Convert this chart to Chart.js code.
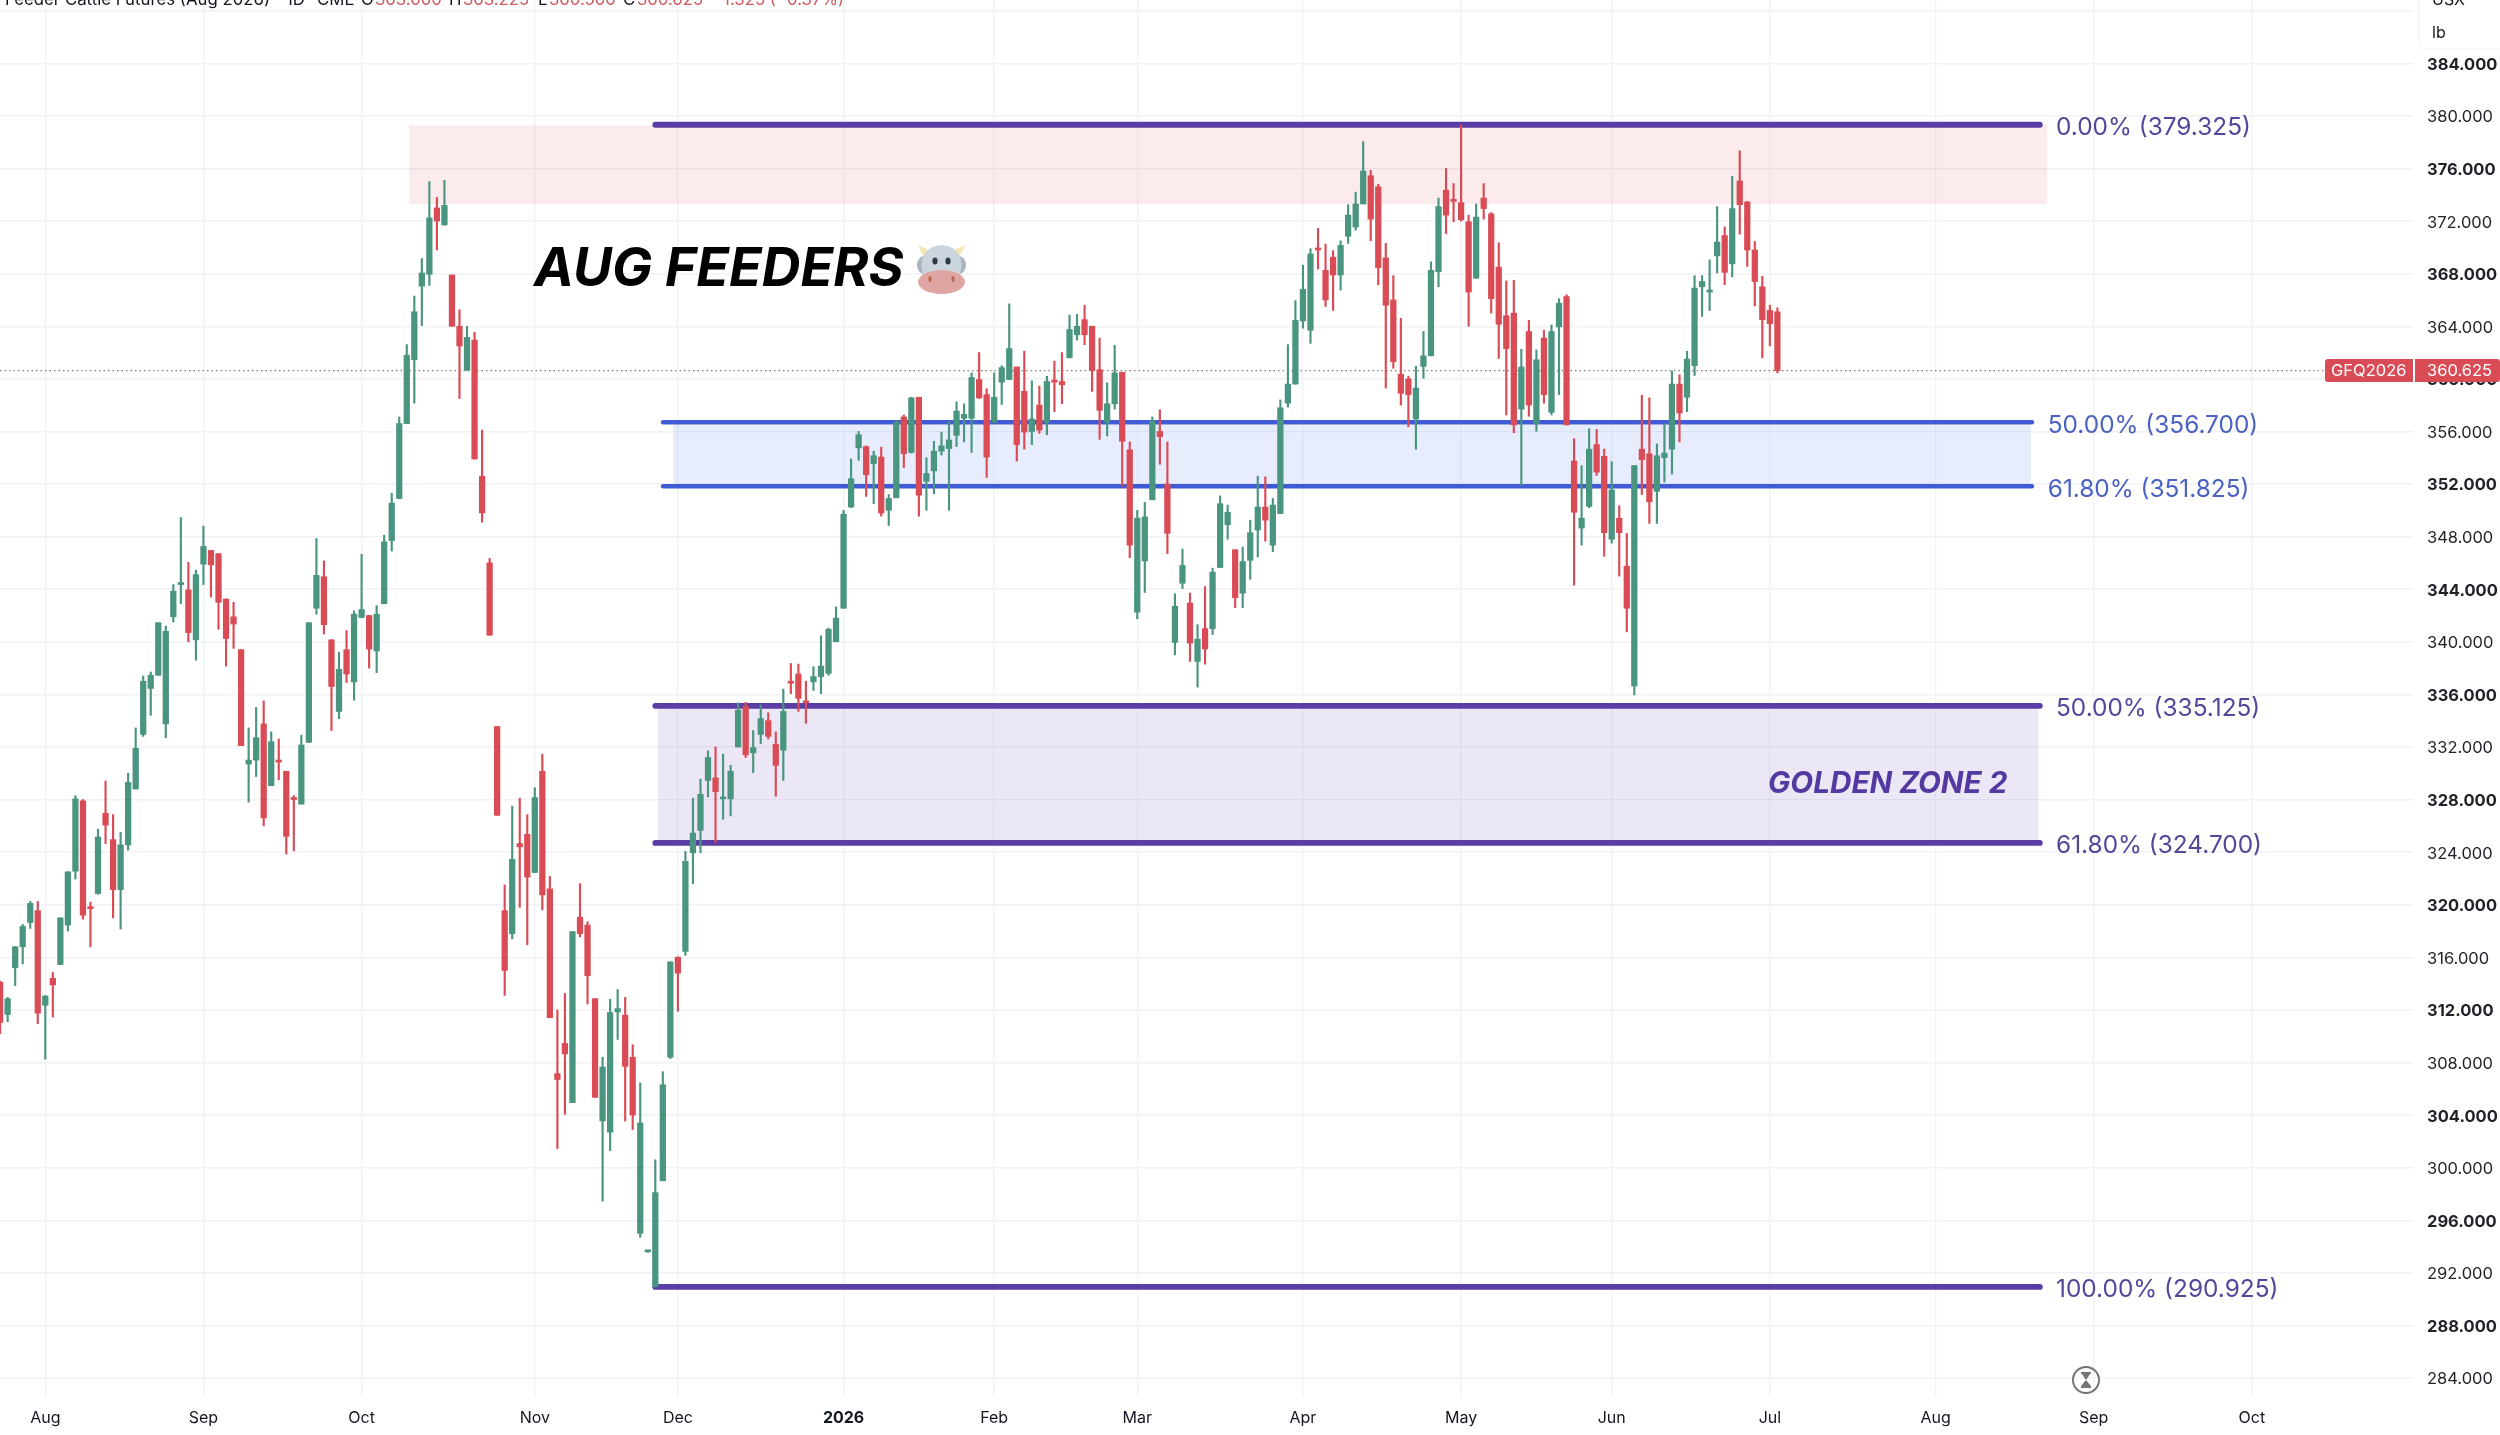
<!DOCTYPE html>
<html>
<head>
<meta charset="utf-8">
<title>AUG FEEDERS</title>
<script src="https://cdn.jsdelivr.net/npm/chart.js@4/dist/chart.umd.min.js"></script>
<style>
  html, body { margin: 0; padding: 0; background: #ffffff; }
  canvas { display: block; }
</style>
</head>
<body>
<canvas id="chart" width="2500" height="1435"></canvas>
<script>
// daily bars, trading day 0 is 1 Aug 2025, first bar on screen is day -6
var firstBar = -6;

var opens = [
  314.1,311.65,315.2,316.8,318.65,319.55,312.35,314.4,315.45,318.45,
  322.55,327.9,319.8,320.85,326.95,324.95,321.15,324.55,328.8,332.95,
  336.45,337.45,333.75,341.9,344.35,343.95,340.15,345.9,346.95,346.7,
  343.25,341.9,339.4,330.7,331,333.75,329.05,331,330.15,328.15,
  327.65,332.35,342.55,344.95,340.15,334.7,339.4,336.95,341.85,342,
  339.3,342.9,347.7,350.9,356.6,361.45,367.05,367.95,373,371.7,
  367.9,364,360.65,362.95,352.6,346,333.55,319.55,317.8,324.65,
  325.35,322.45,330.15,321.2,307.15,309.45,304.95,319.05,318.45,312.85,
  303.55,302.7,311.85,311.6,308.4,295,293.6,290.95,299,308.4,
  316,316.45,323.95,325.65,329.45,329.65,328.05,328.05,332,335.1,
  331.55,332.95,334,332.2,331.75,337,337.55,335.45,336.95,337.35,
  337.6,340,342.55,350.25,354.75,354.85,353.55,354.05,350,350.95,
  357.1,354.4,358.6,352.2,353,354.5,354.7,355.7,357,357,
  359.95,358.8,356.7,359.75,359.95,360.9,359.05,356,358,356.7,
  359.85,359.8,361.6,363.35,364.5,364,360.7,356.7,358.1,360.5,
  354.6,342.25,346.15,350.8,356,352,339.95,344.45,342.95,338.5,
  341,341,345.65,348.9,347,343.7,346.2,348.5,350.25,347.35,
  349.75,358.15,359.6,364.4,363.7,369.95,368.25,369.25,367.9,370.85,
  371.55,373.3,375.45,374.6,369.2,366,360.35,360,356.95,360.95,
  361.75,368.15,374.35,373.65,373.4,371.95,367.65,373.75,372.55,368.5,
  364.8,365,357.7,363.6,356.6,363.1,357.45,363.95,366.25,353.75,
  348.65,350.3,355,354.1,347.8,349.4,345.75,336.65,354.65,354.3,
  351.45,354,354.65,359.6,358.6,361,367,366.6,369.35,370.9,
  368.75,375.05,373.45,369.8,367,365.2,365.1
];
var highs = [
  314.2,312.95,316.8,318.5,320.25,320.25,313.1,314.85,319,322.5,
  328.3,328,320.2,325.75,329.4,326.85,325.5,330,333.45,337.4,
  337.7,341.45,341.2,344.35,349.45,346.05,345.45,348.8,346.95,346.7,
  343.25,343,339.4,333.45,335,335.5,333.15,332.6,330.15,328.3,
  332.9,341.45,347.85,346.15,340.15,339.2,340.85,342.35,346.65,342,
  342.75,348.1,351.3,357.1,362.6,366.3,369.15,375,373.8,375.1,
  367.9,365.25,364,363.55,356.1,346.35,333.55,321.5,327.5,328.1,
  326.85,328.9,331.45,322.15,312,313.25,317.95,321.6,318.7,312.85,
  308.4,312.8,313.55,312.95,309.35,306.45,293.7,300.6,307.3,315.65,
  316.05,324.05,328.1,329.55,331.7,332,331.45,330.6,335.35,335.4,
  333.25,335.2,334.6,333.15,336.4,338.35,338.3,337,338.1,340.45,
  341.05,342.65,350,353.9,356,354.9,354.5,354.8,351.2,356.85,
  357.25,358.6,358.6,354,355.25,355.95,356.75,358.25,358.1,360.45,
  362,359.25,360.45,361,365.7,360.9,362.1,359.85,359.45,360.2,
  361.35,362,364.85,364.9,365.6,364,363.1,359.7,362.55,360.5,
  355.2,350,350.6,357.1,357.65,355.2,343.65,347.05,343.7,341.3,
  344.2,345.6,351.1,350.4,347,347.2,349.25,352.6,352.55,350.9,
  358.4,362.6,365.95,368.65,369.9,371.45,370.25,369.75,370.5,373.25,
  374.2,378.05,375.85,374.8,370.3,367.85,364.6,360.2,360.95,363.6,
  368.9,373.75,376,374.85,379.325,372.45,373.3,374.85,372.65,370.35,
  367.45,367.5,362.25,364.45,362.2,363.7,364.1,366.1,366.4,355.45,
  353.4,356.2,356.15,354.65,353.7,350.35,348.25,353.4,358.75,358.55,
  355.05,356.6,360.6,360.3,362.1,367.85,367.85,369.05,373.1,371.55,
  375.4,377.35,373.5,370.45,367.8,365.6,365.4
];
var lows = [
  310.2,311.1,313.85,315.5,318.2,310.95,308.25,311.45,315.45,318,
  321.95,318.9,316.8,320.8,324.65,319,318.15,324.15,328.8,332.8,
  334.4,337.45,332.7,341.5,342.9,340,338.6,344.35,343.4,340.95,
  338.15,339.5,332.1,327.8,329.75,326,329.05,329.5,323.85,324.1,
  327.65,332.35,342.1,340.6,333.25,334.15,336.9,335.55,341.85,338,
  337.65,342.9,346.9,350.9,356.6,358.15,364.05,367.1,369.8,371.7,
  364,358.5,360.65,353.9,349.1,340.5,326.8,313.1,317.4,319.8,
  316.95,322.45,319.6,311.4,301.45,304.05,304.95,317.55,312.45,305.35,
  297.45,301.3,309.75,303.55,302.9,294.7,293.55,290.925,299,308.3,
  311.9,316.15,321.6,323.95,328.2,324.75,326.5,326.75,332,331.2,
  330.05,332.25,332.6,328.25,329.45,336.05,334.7,333.8,336.3,336.05,
  337.45,340,342.55,350.2,353.8,351.05,350.5,349.55,348.85,350.95,
  353.25,354.35,349.55,350,351.25,354.2,350,354.85,355.2,354.4,
  358.5,352.5,356.65,358.05,359.95,353.75,354.65,355,355.85,355.75,
  357.5,358.1,361.6,362.95,362.6,359.05,355.4,355.65,357.7,351.85,
  346.4,341.75,343.75,350.8,353.5,346.7,339,344.05,338.5,336.55,
  338.3,340.55,345.65,347.8,342.6,342.6,344.75,346.45,347.65,346.85,
  349.75,357.85,359.6,363.85,362.7,368.35,365.5,365.2,366.75,370.3,
  371.3,373.3,370.5,367.15,359.3,360.8,358,356.35,354.65,360.05,
  361.75,367,371.05,371.95,372,364,367.65,372.15,365,361.55,
  357.25,355.9,351.9,357.15,356,358.15,357.25,358.8,356.5,344.3,
  347.35,350.2,352.65,346.5,347.5,345,340.75,335.95,351.2,349,
  349,352.15,352.75,355.2,357.5,360.25,364.75,365.2,368.05,367.15,
  367.75,371,368.55,365.55,361.6,362.5,360.45
];
var closes = [
  311.05,312.85,316.8,318.35,320.1,311.75,313.05,313.9,319,322.5,
  328.05,319.2,319.7,325.15,326.05,321.15,324.55,329.3,331.9,337,
  337.45,341.45,340.8,343.85,344.45,340.7,345.1,347.25,345.85,343,
  340.25,341.35,332.1,331,332.7,326.6,332.4,330.85,325.2,328,
  332.15,341.45,345.05,341.3,336.6,337.9,337.55,342.1,342.45,339.45,
  342.1,347.6,350.55,356.6,361.8,365.1,368.05,372.25,372,373.2,
  364,362.5,363.15,353.9,349.8,340.5,326.8,315,323.45,324.4,
  322.1,328.15,320.75,311.4,306.7,308.65,317.95,317.8,314.6,305.35,
  307.65,311.8,312.1,307.7,304,303.4,293.65,298.1,306.3,315.65,
  314.8,323.3,325.45,328.4,331.2,328.6,328.15,330.15,334.8,331.4,
  331.95,334.15,332.8,330.6,334.7,336.85,335.7,335.35,337.35,338.15,
  340.95,341.8,349.7,352.4,355.75,352.7,354.15,349.8,350.9,356.7,
  354.3,358.55,351.15,352.8,354.5,354.9,355.35,357.55,357.3,360.1,
  358.55,354.05,358.6,360.85,362.3,355,355.95,356.95,356.1,359.8,
  359.75,359.55,363.75,364,363.35,360.65,357.6,358.1,360.45,355.25,
  347.35,349.4,349.5,356.8,355.6,348.25,342.7,345.8,339.9,340.2,
  339.45,345.3,350.5,349.85,343.35,346.1,348.3,350.25,349.25,350.4,
  357.8,359.6,364.45,366.8,369.5,369.8,366,367.9,370.15,372.45,
  373.3,375.8,372.15,368.45,365.6,361.3,358.9,358.8,359.3,361.75,
  368.25,373.1,372.45,373.5,372.1,366.6,372.3,372.95,366.1,364.15,
  362.3,356.5,360.9,358,361.45,358.8,363.6,365.75,356.5,349.85,
  349.4,354.65,352.9,348.3,351.55,348.3,342.55,353.4,353.85,350.65,
  354.15,354.35,359.6,357.4,361.5,366.9,367.4,366.65,370.4,368.1,
  372.95,373.25,369.8,367.4,364.5,364.2,360.625
];

// axis
var monthTicks = [0, 21, 42, 65, 84, 106, 126, 145, 167, 188, 208, 229, 251, 272, 293];
var monthLabels = ["Aug", "Sep", "Oct", "Nov", "Dec", "2026", "Feb", "Mar", "Apr", "May", "Jun", "Jul", "Aug", "Sep", "Oct"];
var priceTicks = [284, 288, 292, 296, 300, 304, 308, 312, 316, 320, 324, 328, 332, 336, 340, 344, 348, 352, 356, 360, 364, 368, 372, 376, 380, 384, 388];
var boldPrices = [288, 296, 304, 312, 320, 328, 336, 344, 352, 360, 368, 376, 384];
var hiddenPrices = [388];
var xMin = -6.015, xMax = 314.4;
var yMin = 282.555, yMax = 388.815;

// fibonacci levels
var fibLevels = [379.325, 356.7, 351.825, 335.125, 324.7, 290.925];
var fibStarts = [81, 82.03, 82.03, 81, 81, 81];
var fibEnds = [264.85, 263.8, 263.8, 264.85, 264.85, 264.85];
var fibLabels = ["0.00% (379.325)", "50.00% (356.700)", "61.80% (351.825)", "50.00% (335.125)", "61.80% (324.700)", "100.00% (290.925)"];
var fibLabelX = [267, 265.9, 265.9, 267, 267, 267];
var fibColors = ["#5a3ea6", "#3f5bd6", "#3f5bd6", "#5a3ea6", "#5a3ea6", "#5a3ea6"];
var fibWidths = [5.8, 4.4, 4.4, 5.8, 5.8, 5.8];
var fibTextColors = ["#54479a", "#4a63c2", "#4a63c2", "#54479a", "#54479a", "#54479a"];

// shaded boxes
var zoneTops = [379.28, 356.5, 335.0];
var zoneBottoms = [373.3, 351.825, 324.7];
var zoneStarts = [48.3, 83.36, 81.36];
var zoneEnds = [265.8, 263.67, 264.7];
var zoneColors = ["rgba(224,60,70,0.10)", "rgba(60,110,240,0.12)", "rgba(100,60,180,0.12)"];

var lastPrice = 360.625;
var upColor = "#4a9580";
var downColor = "#da4c55";
var fontName = "Inter, 'Noto Sans', sans-serif";

var wickData = [], bodyData = [], barColors = [];
for (var i = 0; i < opens.length; i++) {
  wickData.push({ x: firstBar + i, y: [lows[i], highs[i]] });
  bodyData.push({ x: firstBar + i, y: [opens[i], closes[i]] });
  barColors.push(closes[i] >= opens[i] ? upColor : downColor);
}

var datasets = [];
datasets.push({ type: "bar", label: "body", data: bodyData, backgroundColor: barColors, barThickness: 5.6, minBarLength: 2, grouped: false, order: 1 });
datasets.push({ type: "bar", label: "wick", data: wickData, backgroundColor: barColors, barThickness: 1.5, grouped: false, order: 2 });

// dotted line of the last price
datasets.push({
  type: "line", label: "last", order: 3, pointRadius: 0,
  data: [{ x: xMin, y: lastPrice }, { x: xMax, y: lastPrice }],
  borderColor: "#94787a", borderWidth: 1.4, borderDash: [1.5, 3]
});

fibLevels.forEach(function(level, n) {
  datasets.push({
    type: "line", label: fibLabels[n], order: 4, pointRadius: 0,
    data: [{ x: fibStarts[n], y: level }, { x: fibEnds[n], y: level }],
    borderColor: fibColors[n], borderWidth: fibWidths[n], borderCapStyle: "round"
  });
});

zoneTops.forEach(function(top, n) {
  datasets.push({
    type: "line", label: "zone" + n, order: 5, pointRadius: 0, borderWidth: 0,
    data: [{ x: zoneStarts[n], y: top }, { x: zoneEnds[n], y: top }],
    backgroundColor: zoneColors[n],
    fill: { target: { value: zoneBottoms[n] } }
  });
});

var drawText = function(ctx, text, x, y, font, color, align) {
  ctx.font = font;
  ctx.fillStyle = color;
  ctx.textAlign = align || "left";
  ctx.textBaseline = "middle";
  ctx.fillText(text, x, y);
};

var drawCow = function(ctx) {
  ctx.fillStyle = "#f4e6b4";
  ctx.beginPath(); ctx.moveTo(918, 245); ctx.lineTo(933, 252); ctx.lineTo(924, 258); ctx.fill();
  ctx.beginPath(); ctx.moveTo(965, 245); ctx.lineTo(950, 252); ctx.lineTo(959, 258); ctx.fill();
  ctx.fillStyle = "#a9b6be";
  ctx.beginPath(); ctx.ellipse(924, 265, 7, 9, 0, 0, Math.PI * 2); ctx.fill();
  ctx.beginPath(); ctx.ellipse(959, 265, 7, 9, 0, 0, Math.PI * 2); ctx.fill();
  ctx.fillStyle = "#ccd5dd";
  ctx.beginPath(); ctx.ellipse(941.5, 265, 20, 20, 0, 0, Math.PI * 2); ctx.fill();
  ctx.fillStyle = "#dfa5a2";
  ctx.beginPath(); ctx.ellipse(941.5, 282, 23.5, 12, 0, 0, Math.PI * 2); ctx.fill();
  ctx.fillStyle = "#2f3b44";
  ctx.beginPath(); ctx.ellipse(935, 261, 2.6, 3.6, 0, 0, Math.PI * 2); ctx.fill();
  ctx.beginPath(); ctx.ellipse(948, 261, 2.6, 3.6, 0, 0, Math.PI * 2); ctx.fill();
  ctx.fillStyle = "#b8674f";
  ctx.beginPath(); ctx.ellipse(930, 279, 1.6, 3, 0, 0, Math.PI * 2); ctx.fill();
  ctx.beginPath(); ctx.ellipse(953, 279, 1.6, 3, 0, 0, Math.PI * 2); ctx.fill();
};

var drawHourglass = function(ctx) {
  ctx.strokeStyle = "#757575";
  ctx.lineWidth = 2;
  ctx.beginPath(); ctx.arc(2086, 1380, 13, 0, Math.PI * 2); ctx.stroke();
  ctx.fillStyle = "#757575";
  ctx.fillRect(2081, 1372, 10, 2);
  ctx.fillRect(2081, 1386, 10, 2);
  ctx.beginPath(); ctx.moveTo(2082, 1374); ctx.lineTo(2090, 1374); ctx.lineTo(2086, 1380); ctx.fill();
  ctx.beginPath(); ctx.moveTo(2086, 1380); ctx.lineTo(2091, 1386); ctx.lineTo(2081, 1386); ctx.fill();
};

var overlay = {
  id: "overlay",
  afterDraw: function(chart) {
    var ctx = chart.ctx;
    var xs = chart.scales.x, ys = chart.scales.y;
    ctx.save();

    // labels of the fib levels
    fibLabels.forEach(function(text, n) {
      drawText(ctx, text, xs.getPixelForValue(fibLabelX[n]), ys.getPixelForValue(fibLevels[n]) + 3, "400 24.4px " + fontName, fibTextColors[n]);
    });

    drawText(ctx, "AUG FEEDERS", 534, 270, "italic 700 53.5px " + fontName, "#000000");
    drawText(ctx, "GOLDEN ZONE 2", 1768, 784.5, "italic 700 29.7px " + fontName, "#5439a0");
    drawCow(ctx);
    drawHourglass(ctx);

    // header, only the lower edge of it is inside the picture
    var headFont = "400 16.8px " + fontName;
    ctx.textBaseline = "alphabetic";
    ctx.textAlign = "left";
    ctx.font = headFont;
    ctx.fillStyle = "#131722";
    ctx.fillText("Feeder Cattle Futures (Aug 2026)", 5, 5);
    ctx.fillText("1D", 286, 5);
    ctx.fillText("CME", 317, 5);
    ctx.fillText("O", 361, 5);
    ctx.fillText("H", 449, 5);
    ctx.fillText("L", 538, 5);
    ctx.fillText("C", 623, 5);
    ctx.fillStyle = "#cf5a62";
    ctx.fillText("363.000", 375, 5);
    ctx.fillText("363.225", 463, 5);
    ctx.fillText("360.500", 549, 5);
    ctx.fillText("360.625", 637, 5);
    ctx.fillText("\u22121.325 (\u22120.37%)", 712, 5);

    // currency box
    ctx.fillStyle = "#ffffff";
    ctx.strokeStyle = "#eef0f3";
    ctx.lineWidth = 1;
    ctx.beginPath();
    ctx.roundRect(2419, -12, 100, 61, 6);
    ctx.fill();
    ctx.stroke();
    drawText(ctx, "USX", 2432, 0, "400 16px " + fontName, "#131722");
    drawText(ctx, "lb", 2432, 33, "400 16px " + fontName, "#131722");

    // last price tags
    var tagY = ys.getPixelForValue(lastPrice);
    ctx.fillStyle = downColor;
    ctx.beginPath();
    ctx.roundRect(2325, tagY - 11.5, 88, 23, [3, 0, 0, 3]);
    ctx.fill();
    ctx.beginPath();
    ctx.roundRect(2415, tagY - 11.5, 85, 23, [0, 3, 3, 0]);
    ctx.fill();
    drawText(ctx, "GFQ2026", 2331, tagY + 0.5, "400 16.5px " + fontName, "#ffffff");
    drawText(ctx, lastPrice.toFixed(3), 2427, tagY + 0.5, "400 16.5px " + fontName, "#ffffff");

    ctx.restore();
  }
};

// the axes ask for room for their outer labels, the plot has to fill the page
var noPadding = function(axis) {
  axis.paddingTop = 0;
  axis.paddingBottom = 0;
  axis.paddingLeft = 0;
  axis.paddingRight = 0;
};

var chart = new Chart(document.getElementById("chart").getContext("2d"), {
  type: "bar",
  data: { datasets: datasets },
  plugins: [overlay],
  options: {
    responsive: false,
    animation: false,
    devicePixelRatio: 1,
    layout: { padding: 0, autoPadding: false },
    plugins: { legend: { display: false }, tooltip: { enabled: false } },
    scales: {
      x: {
        type: "linear",
        min: xMin,
        max: xMax,
        offset: false,
        border: { display: false },
        grid: { color: "#f1f2f5", lineWidth: 1.4, drawTicks: false, offset: false },
        afterBuildTicks: function(axis) {
          axis.ticks = monthTicks.map(function(v) { return { value: v }; });
        },
        afterFit: function(axis) { axis.height = 38; noPadding(axis); },
        ticks: {
          autoSkip: false,
          maxRotation: 0,
          padding: 12,
          color: "#131722",
          font: function(c) {
            return { family: fontName, size: 16, weight: monthLabels[c.index] === "2026" ? "bold" : "normal" };
          },
          callback: function(value, index) { return monthLabels[index]; }
        }
      },
      y: {
        type: "linear",
        position: "right",
        min: yMin,
        max: yMax,
        border: { display: false },
        grid: { color: "#f1f2f5", lineWidth: 1.4, drawTicks: false },
        afterBuildTicks: function(axis) {
          axis.ticks = priceTicks.map(function(v) { return { value: v }; });
        },
        afterFit: function(axis) { axis.width = 87; noPadding(axis); },
        ticks: {
          padding: 14,
          labelOffset: 1.5,
          crossAlign: "near",
          color: "#1f2329",
          font: function(c) {
            var bold = c.tick && boldPrices.indexOf(c.tick.value) >= 0;
            return { family: fontName, size: 16.5, weight: bold ? "bold" : "normal" };
          },
          callback: function(value) {
            return hiddenPrices.indexOf(value) >= 0 ? "" : value.toFixed(3);
          }
        }
      }
    }
  }
});
</script>
</body>
</html>
